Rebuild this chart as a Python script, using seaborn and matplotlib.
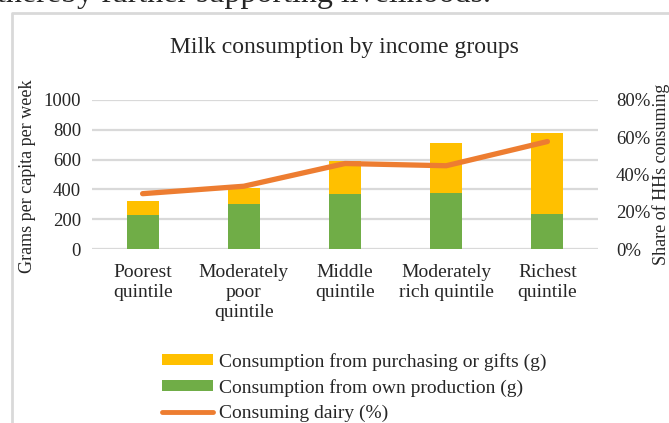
import numpy as np
import pandas as pd
import seaborn as sns
import matplotlib
matplotlib.use("Agg")
import matplotlib.pyplot as plt
from matplotlib.patches import Patch
from matplotlib.lines import Line2D

categories = ["Poorest\nquintile", "Moderately\npoor\nquintile", "Middle\nquintile",
              "Moderately\nrich quintile", "Richest\nquintile"]
own_production = [228, 304, 367, 376, 237]
purchasing_gifts = [94, 108, 223, 337, 541]
consuming_dairy = [29.7, 33.7, 45.9, 44.7, 57.7]
left_ticks = [0, 200, 400, 600, 800, 1000]
right_ticks = [0, 20, 40, 60, 80]

YELLOW = "#FFC000"
GREEN = "#70AD47"
ORANGE = "#ED7D31"
GRID = "#D9D9D9"

sns.set_theme(style="white")
plt.rcParams["font.family"] = ["Liberation Serif", "DejaVu Serif"]

W, H = 669, 423
fig = plt.figure(figsize=(W / 100, H / 100), dpi=100)

def fx(px):
    return px / W

def fy(py):
    return 1 - py / H

ax_l, ax_r, ax_t, ax_b = 92, 598, 100, 249
ax = fig.add_axes([fx(ax_l), fy(ax_b), fx(ax_r) - fx(ax_l), fy(ax_t) - fy(ax_b)])

df = pd.DataFrame({
    "cat": categories,
    "own": own_production,
    "total": np.array(own_production) + np.array(purchasing_gifts),
    "pct": consuming_dairy,
})

sns.barplot(data=df, x="cat", y="total", color=YELLOW, saturation=1, width=0.316,
            ax=ax, zorder=2)
sns.barplot(data=df, x="cat", y="own", color=GREEN, saturation=1, width=0.316,
            ax=ax, zorder=3)
for p in ax.patches:
    p.set_edgecolor("none")

ax.set_xlim(-0.5, 4.5)
ax.set_ylim(0, 1000)
ax.set_yticks(left_ticks)
ax.set_yticklabels([str(v) for v in left_ticks], fontsize=13.5)
ax.yaxis.grid(True, color=GRID, linewidth=1.6, zorder=0)
ax.set_axisbelow(True)
for s in ax.spines.values():
    s.set_visible(False)
ax.tick_params(axis="y", length=0, pad=8)
ax.tick_params(axis="x", length=0, pad=10.5)
ax.set_xticks(range(len(categories)))
ax.set_xticklabels(categories, fontsize=14, linespacing=1.25, va="top")
ax.set_xlabel("")
ax.set_ylabel("")
fig.text(fx(28), fy(176), "Grams per capita per week", rotation=90, fontsize=13,
         ha="center", va="center")

ax2 = ax.twinx()
sns.lineplot(x=np.arange(len(categories)), y=df["pct"], ax=ax2, color=ORANGE,
             linewidth=3.8, solid_capstyle="round", zorder=4)
ax2.set_ylim(0, 80)
ax2.set_yticks(right_ticks)
ax2.set_yticklabels([f"{v}%" for v in right_ticks], fontsize=13.5)
ax2.yaxis.set_tick_params(length=0, pad=13)
for s in ax2.spines.values():
    s.set_visible(False)
ax2.set_ylabel("")
fig.text(fx(661), fy(174), "Share of HHs consuming", rotation=90, fontsize=13,
         ha="center", va="center")

fig.text(fx(344), fy(47), "Milk consumption by income groups", fontsize=17,
         ha="center", va="center")

# page text cut off at top and chart frame
fig.text(fx(-3), fy(2), "thereby further supporting livelihoods.", fontsize=23,
         ha="left", va="baseline")
fig.add_artist(Line2D([fx(12), fx(12), fx(W + 5)], [fy(H + 5), fy(13), fy(13)],
                      transform=fig.transFigure, color=GRID, linewidth=2))

handles = [
    Patch(facecolor=YELLOW, edgecolor="none"),
    Patch(facecolor=GREEN, edgecolor="none"),
    Line2D([0], [0], color=ORANGE, linewidth=3.5, solid_capstyle="round"),
]
labels = ["Consumption from purchasing or gifts (g)",
          "Consumption from own production (g)",
          "Consuming dairy (%)"]
leg = fig.legend(handles, labels, loc="upper left", bbox_to_anchor=(fx(152), fy(343)),
                 frameon=False, fontsize=14, handlelength=2.65, handleheight=0.5,
                 handletextpad=0.3, labelspacing=0.42, borderpad=0)

fig.savefig("out.png", dpi=100)
